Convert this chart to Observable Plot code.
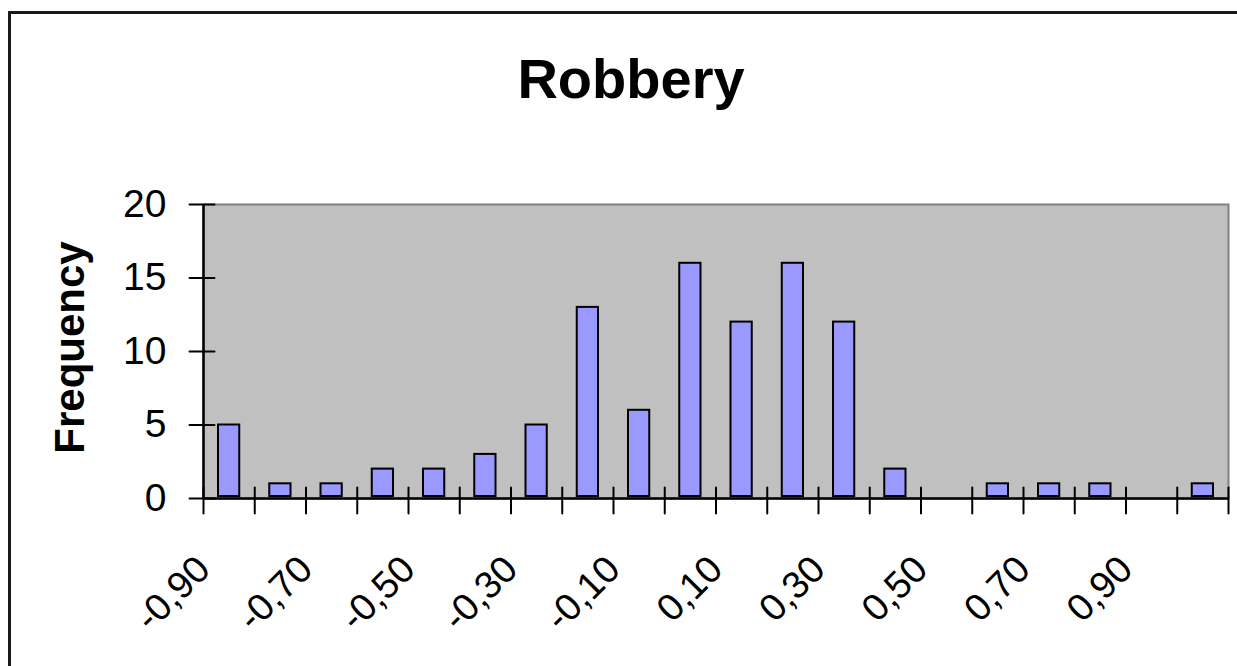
<!DOCTYPE html>
<html><head><meta charset="utf-8">
<script src="https://cdn.jsdelivr.net/npm/d3@7"></script>
<script src="https://cdn.jsdelivr.net/npm/@observablehq/plot@0.6"></script>
<style>
html,body{margin:0;padding:0;background:#fff;overflow:hidden;}
#wrap{position:relative;width:1237px;height:666px;overflow:hidden;background:#fff;}
#chart{position:absolute;left:0;top:0;}
#border{position:absolute;left:8px;top:11px;width:1400px;height:800px;border-left:3px solid #1a1a1a;border-top:3px solid #1a1a1a;z-index:2;pointer-events:none;}
</style></head><body>
<div id="wrap"><div id="chart"></div><div id="border"></div></div>
<script>
const title = "Robbery";
const yLabel = "Frequency";
const bins = [-0.9,-0.8,-0.7,-0.6,-0.5,-0.4,-0.3,-0.2,-0.1,0.0,0.1,0.2,0.3,0.4,0.5,0.6,0.7,0.8,0.9,1.0];
const freq = [5,1,1,2,2,3,5,13,6,16,12,16,12,2,0,1,1,1,0,1];
const xLabelValues = [-0.9,-0.7,-0.5,-0.3,-0.1,0.1,0.3,0.5,0.7,0.9];
const xLabels = ["-0,90","-0,70","-0,50","-0,30","-0,10","0,10","0,30","0,50","0,70","0,90"];
const yTicks = [0,5,10,15,20];

const data = bins.map((b, i) => ({bin: b, freq: freq[i]}));
const half = (bins[1] - bins[0]) / 2;
const xDomain = [bins[0] - half, bins[bins.length - 1] + half];
const edges = bins.map(b => b - half).concat([bins[bins.length - 1] + half]);
const spike = {draw(ctx, l) { ctx.moveTo(0, 0); ctx.lineTo(0, -l); }};

const chart = Plot.plot({
  width: 1237,
  height: 666,
  marginLeft: 203,
  marginRight: 9,
  marginTop: 204,
  marginBottom: 168,
  style: {fontFamily: "'Liberation Sans', Arial, sans-serif", background: "transparent", overflow: "visible", color: "#000"},
  x: {type: "linear", domain: xDomain, axis: null},
  y: {domain: [0, 20], axis: null},
  marks: [
    Plot.frame({fill: "#c0c0c0", stroke: "#808080", strokeWidth: 2}),
    Plot.rectY(data.filter(d => d.freq > 0), {
      x1: d => d.bin - half, x2: d => d.bin + half, y1: 0, y2: "freq",
      insetLeft: 15, insetRight: 15, insetBottom: 2,
      fill: "#9999ff", stroke: "#000", strokeWidth: 2
    }),
    Plot.ruleY([0], {stroke: "#000", strokeWidth: 2.5}),
    Plot.ruleX([xDomain[0]], {stroke: "#000", strokeWidth: 2.5}),
    Plot.vector(edges, {x: d => d, y: 0, rotate: 180, length: 26, anchor: "start", dy: -11, shape: spike, stroke: "#000", strokeWidth: 2}),
    Plot.vector(yTicks, {x: xDomain[0], y: d => d, rotate: 90, length: 25, anchor: "start", dx: -14, shape: spike, stroke: "#000", strokeWidth: 2}),
    Plot.text(yTicks, {x: xDomain[0], y: d => d, text: d => String(d), textAnchor: "end", dx: -37, fontSize: 39}),
    Plot.text(xLabelValues, {x: d => d, text: (d, i) => xLabels[i], frameAnchor: "bottom", dx: -17, dy: 73, rotate: -45, textAnchor: "end", lineAnchor: "bottom", fontSize: 38}),
    Plot.text([title], {frameAnchor: "top", dx: -85, dy: -107, textAnchor: "middle", lineAnchor: "bottom", fontSize: 56, fontWeight: "bold"}),
    Plot.text([yLabel], {frameAnchor: "left", dx: -133, dy: -4, rotate: -90, textAnchor: "middle", lineAnchor: "middle", fontSize: 42, fontWeight: "bold"})
  ]
});
document.getElementById("chart").appendChild(chart);
</script>
</body></html>
